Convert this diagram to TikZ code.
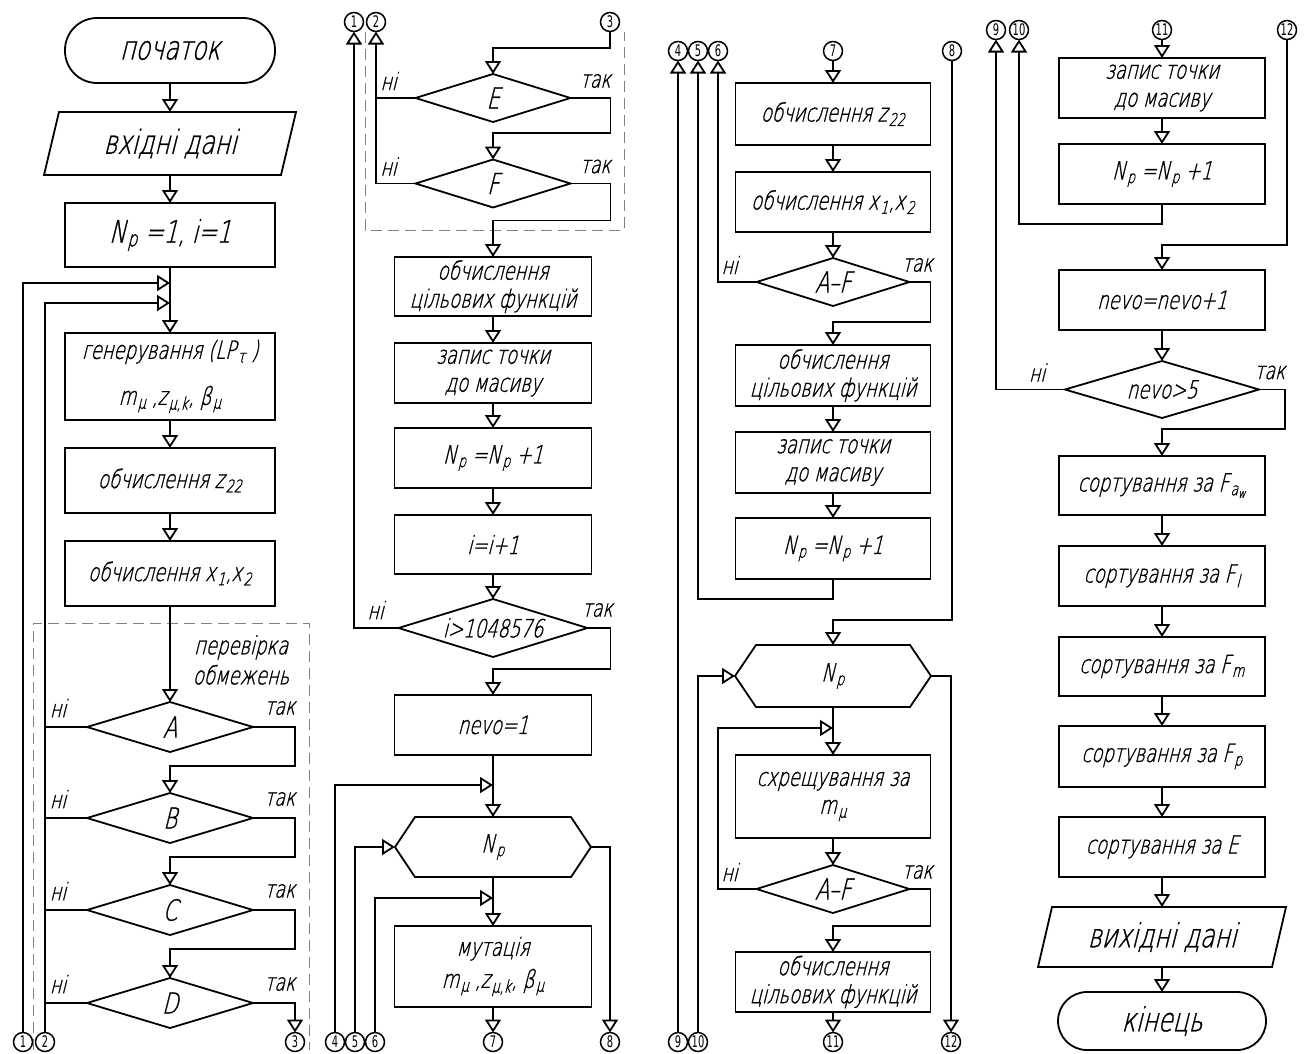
\documentclass[tikz,border=0pt]{standalone}
\usepackage{fontspec}
\usetikzlibrary{arrows.meta,shapes.geometric,calc}
\IfFontExistsTF{DejaVu Sans ExtraLight}
 {\newfontfamily\gf{DejaVu Sans ExtraLight}[FakeSlant=0.25,FakeStretch=0.72,FakeBold=1]}
 {\newfontfamily\gf{DejaVu Sans}[FakeSlant=0.25,FakeStretch=0.72]}
\newfontfamily\nf{DejaVu Sans}[FakeStretch=0.62]
\newcommand\sbs[1]{\kern1.5pt\textsubscript{#1}}
\begin{document}
\begin{tikzpicture}[x=1pt,y=-1pt,line width=1.8pt,
 every node/.style={inner sep=0pt,outer sep=0pt,font=\gf\fontsize{25}{28}\selectfont},
 box/.style={draw,rectangle,minimum height=60pt},
 wa/.style={minimum width=210pt}, wb/.style={minimum width=197pt},
 wc/.style={minimum width=195pt}, wd/.style={minimum width=206pt},
 big/.style={font=\gf\fontsize{33}{36}\selectfont},
 dia/.style={draw,diamond,aspect=3},
 dlet/.style={font=\gf\fontsize{29}{30}\selectfont},
 lbl/.style={font=\gf\fontsize{24}{26}\selectfont},
 con/.style={draw,circle,minimum size=19pt,line width=1.5pt,font=\nf\fontsize{16}{16}\selectfont},
 ar/.style={-{Triangle[open,length=13pt,width=16pt]}},
 dsh/.style={draw=gray,line width=1pt,dash pattern=on 11pt off 6pt},
]
\fill[white] (0,0) rectangle (1305,1053);
\useasboundingbox (0,0) rectangle (1305,1053);

% ================= column 1 =================
\node[draw,rounded corners=32pt,minimum width=210pt,minimum height=65pt,big] (start) at (170,50.5) {початок};
\node[minimum width=252pt,minimum height=63pt,big] (in) at (170,143.5) {вхідні дані};
\draw ($(in.north west)+(15,0)$) -- (in.north east) -- ($(in.south east)+(-15,0)$) -- (in.south west) -- cycle;
\node[box,wa,minimum height=64pt,font=\gf\fontsize{31}{33}\selectfont] (np1) at (170,235) {N\sbs{p} =1, i=1};
\node[box,wa,minimum height=87pt,align=center] (gen) at (170,376.5) {генерування (LP\sbs{τ} )\\[18pt] m\sbs{μ} ,z\sbs{μ,k}, β\sbs{μ}};
\node[box,wa,minimum height=65pt] (z22a) at (170,480.5) {обчислення z\sbs{22}};
\node[box,wa,minimum height=65pt] (x12a) at (170,573.5) {обчислення x\sbs{1},x\sbs{2}};
\foreach \d/\y/\t in {dA/727/A,dB/818/B,dC/910/C,dD/1003/D}{
  \node[dia,dlet,minimum width=166pt,minimum height=50pt] (\d) at (170,\y) {\t};
  \node[lbl] (\d-no) at ($(\d.west)+(-29,-19)$) {ні};
  \node[lbl] (\d-yes) at ($(\d.east)+(27,-19)$) {так};
}
\node[con] (c1b) at (23,1042) {1};
\node[con] (c2b) at (45,1042) {2};
\node[con] (c3a) at (295,1042) {3};
\node[align=center,font=\gf\fontsize{25}{30}\selectfont] (chk) at (241,660) {перевірка\\обмежень};
\draw[dsh] (33,1050) -- (33,623) -- (309,623) -- (309,1050);

\coordinate (j1) at (170,283);
\coordinate (j2) at (170,303);
\draw[ar] (start) -- (in);
\draw[ar] (in) -- (np1);
\draw[ar] (np1) -- (gen);
\draw[ar] (c1b.north) |- (j1);
\draw[ar] (c2b.north) |- (j2);
\draw[ar] (gen) -- (z22a);
\draw[ar] (z22a) -- (x12a);
\draw[ar] (x12a) -- (dA);
\foreach \a/\b in {dA/dB,dB/dC,dC/dD}
  \draw[ar] (\a.east) -- ++(42,0) |- ($(\a.south)+(0,14)$) -- (\b.north);
\foreach \a in {dA,dB,dC,dD}
  \draw (\a.west) -- (\a.west -| c2b.north);
\draw[ar] (dD.east) -| (c3a.north);

% ================= column 2 =================
\node[con] (c1t) at (354,22) {1};
\node[con] (c2t) at (376,22) {2};
\node[con] (c3t) at (610,22) {3};
\node[dia,dlet,minimum width=155pt,minimum height=48pt] (dE) at (493,98) {E};
\node[dia,dlet,minimum width=155pt,minimum height=48pt] (dF) at (493,183.5) {F};
\foreach \d in {dE,dF}{
  \node[lbl] (\d-no) at ($(\d.west)+(-27,-17)$) {ні};
  \node[lbl] (\d-yes) at ($(\d.east)+(25,-17)$) {так};
}
\draw[dsh] (365,32) -- (365,230) -- (624,230) -- (624,32);
\node[box,wb,minimum height=59pt,align=center] (cfB) at (493,286.5) {обчислення\\цільових функцій};
\node[box,wb,align=center] (zapB) at (493,373) {запис точки\\до масиву};
\node[box,wb] (npB) at (493,458) {N\sbs{p} =N\sbs{p} +1};
\node[box,wb,minimum height=59pt] (iiB) at (493,544.5) {i=i+1};
\node[dia,minimum width=189pt,minimum height=58pt] (dI) at (493,628) {i>1048576};
\node[lbl] (dI-no) at ($(dI.west)+(-23,-18)$) {ні};
\node[lbl] (dI-yes) at ($(dI.east)+(10,-18)$) {так};
\node[box,wb] (nevoB) at (493,725) {nevo=1};
\node[minimum width=196pt,minimum height=60pt] (hexA) at (493,847) {N\sbs{p}};
\draw (hexA.west) -- ($(hexA.north west)+(20,0)$) -- ($(hexA.north east)+(-20,0)$) -- (hexA.east)
      -- ($(hexA.south east)+(-20,0)$) -- ($(hexA.south west)+(20,0)$) -- cycle;
\node[box,wb,minimum height=81pt,align=center] (mut) at (493,966.5) {мутація\\[4pt] m\sbs{μ} ,z\sbs{μ,k}, β\sbs{μ}};
\node[con] (c4b) at (335,1042) {4};
\node[con] (c5b) at (355,1042) {5};
\node[con] (c6b) at (375,1042) {6};
\node[con] (c7b) at (493,1042) {7};
\node[con] (c8b) at (610,1042) {8};

\coordinate (j4) at (493,785);
\coordinate (j6) at (493,898);
\draw[ar] (c3t.south) |- ($(dE.north)+(0,-26)$) -- (dE.north);
\draw[ar] (dE.east) -- ++(40,0) |- ($(dE.south)+(0,11)$) -- (dF.north);
\draw[ar] (dF.east) -- ++(40,0) |- ($(dF.south)+(0,13)$) -- (cfB.north);
\draw (dE.west) -- (dE.west -| c2t.south);
\draw[ar] (dF.west) -| (c2t.south);
\draw[ar] (cfB) -- (zapB);
\draw[ar] (zapB) -- (npB);
\draw[ar] (npB) -- (iiB);
\draw[ar] (iiB) -- (dI);
\draw[ar] (dI.west) -| (c1t.south);
\draw[ar] (dI.east) -- ++(23,0) |- ($(dI.south)+(0,12)$) -- (nevoB.north);
\draw[ar] (nevoB) -- (hexA);
\draw[ar] (c4b.north) |- (j4);
\draw[ar] (c5b.north) |- (hexA.west);
\draw[ar] (hexA.east) -| (c8b.north);
\draw[ar] (hexA) -- (mut);
\draw[ar] (c6b.north) |- (j6);
\draw[ar] (mut) -- (c7b);

% ================= column 3 =================
\node[con] (c4t) at (678,51) {4};
\node[con] (c5t) at (698,51) {5};
\node[con] (c6t) at (718,51) {6};
\node[con] (c7t) at (833,51) {7};
\node[con] (c8t) at (952,51) {8};
\node[box,wc,minimum height=62pt] (z22b) at (833,114) {обчислення z\sbs{22}};
\node[box,wc] (x12b) at (833,202) {обчислення x\sbs{1},x\sbs{2}};
\node[dia,dlet,minimum width=153pt,minimum height=48pt] (dAF1) at (833,282) {A–F};
\node[box,wc,minimum height=61pt,align=center] (cfC) at (833,375.5) {обчислення\\цільових функцій};
\node[box,wc,minimum height=61pt,align=center] (zapC) at (833,462.5) {запис точки\\до масиву};
\node[box,wc,minimum height=61pt] (npC) at (833,548.5) {N\sbs{p} =N\sbs{p} +1};
\node[minimum width=196pt,minimum height=62pt] (hexB) at (833,676) {N\sbs{p}};
\draw (hexB.west) -- ($(hexB.north west)+(21,0)$) -- ($(hexB.north east)+(-21,0)$) -- (hexB.east)
      -- ($(hexB.south east)+(-21,0)$) -- ($(hexB.south west)+(21,0)$) -- cycle;
\node[box,wc,minimum height=83pt,align=center] (crC) at (833,796.5) {схрещування за\\m\sbs{μ}};
\node[dia,dlet,minimum width=153pt,minimum height=48pt] (dAF2) at (833,889) {A–F};
\foreach \d in {dAF1,dAF2}{
  \node[lbl] (\d-no) at ($(\d.west)+(-27,-17)$) {ні};
  \node[lbl] (\d-yes) at ($(\d.east)+(8,-17)$) {так};
}
\node[box,wc,align=center] (cfD) at (833,982) {обчислення\\цільових функцій};
\node[con] (c9b) at (678,1042) {9};
\node[con] (c10b) at (698,1042) {10};
\node[con] (c11b) at (833,1042) {11};
\node[con] (c12b) at (951,1042) {12};

\coordinate (j7) at (833,728);
\draw[ar] (c9b.north) -- (c4t.south);
\draw[ar] (c7t) -- (z22b);
\draw[ar] (z22b) -- (x12b);
\draw[ar] (x12b) -- (dAF1);
\draw[ar] (dAF1.west) -| (c6t.south);
\draw[ar] (dAF1.east) -- ++(21,0) |- ($(dAF1.south)+(0,16)$) -- (cfC.north);
\draw[ar] (cfC) -- (zapC);
\draw[ar] (zapC) -- (npC);
\draw[ar] (npC.south) -- ++(0,20) -| (c5t.south);
\draw[ar] (c8t.south) |- ($(hexB.north)+(0,-25)$) -- (hexB.north);
\draw[ar] (c10b.north) |- (hexB.west);
\draw[ar] (hexB.east) -| (c12b.north);
\draw[ar] (hexB) -- (crC);
\draw[ar] (crC) -- (dAF2);
\draw[ar] (dAF2.west) -- (dAF2.west -| c6t.south) |- (j7);
\draw[ar] (dAF2.east) -- ++(21,0) |- ($(dAF2.south)+(0,13)$) -- (cfD.north);
\draw[ar] (cfD) -- (c11b);

% ================= column 4 =================
\node[con] (c9t) at (996,30) {9};
\node[con] (c10t) at (1019,30) {10};
\node[con] (c11t) at (1162,30) {11};
\node[con] (c12t) at (1287,30) {12};
\node[box,wd,align=center] (zapD) at (1162,88) {запис точки\\до масиву};
\node[box,wd] (npD) at (1162,174) {N\sbs{p} =N\sbs{p} +1};
\node[box,wd] (nevoD) at (1162,300) {nevo=nevo+1};
\node[dia,minimum width=194pt,minimum height=57pt] (dN) at (1162,389.5) {nevo>5};
\node[lbl] (dN-no) at ($(dN.west)+(-28,-17)$) {ні};
\node[lbl] (dN-yes) at ($(dN.east)+(11,-17)$) {так};
\node[box,wd,minimum height=59pt] (s1) at (1162,485.5) {сортування за F\sbs{a\textsubscript{w}}};
\node[box,wd] (s2) at (1162,576) {сортування за F\sbs{l}};
\node[box,wd,minimum height=59pt] (s3) at (1162,666.5) {сортування за F\sbs{m}};
\node[box,wd,minimum height=61pt] (s4) at (1162,756.5) {сортування за F\sbs{p}};
\node[box,wd] (s5) at (1162,847) {сортування за E};
\node[minimum width=248pt,minimum height=60pt,big] (out) at (1162,937) {вихідні дані};
\draw ($(out.north west)+(14,0)$) -- (out.north east) -- ($(out.south east)+(-14,0)$) -- (out.south west) -- cycle;
\node[draw,rounded corners=29pt,minimum width=208pt,minimum height=58pt,big] (end) at (1162,1021) {кінець};

\draw[ar] (c11t) -- (zapD);
\draw[ar] (zapD) -- (npD);
\draw[ar] (npD.south) -- ++(0,20) -| (c10t.south);
\draw[ar] (c12t.south) |- ($(nevoD.north)+(0,-25)$) -- (nevoD.north);
\draw[ar] (nevoD) -- (dN);
\draw[ar] (dN.west) -| (c9t.south);
\draw[ar] (dN.east) -- ++(26,0) |- ($(dN.south)+(0,11)$) -- (s1.north);
\draw[ar] (s1) -- (s2);
\draw[ar] (s2) -- (s3);
\draw[ar] (s3) -- (s4);
\draw[ar] (s4) -- (s5);
\draw[ar] (s5) -- (out);
\draw[ar] (out) -- (end);
\end{tikzpicture}
\end{document}
